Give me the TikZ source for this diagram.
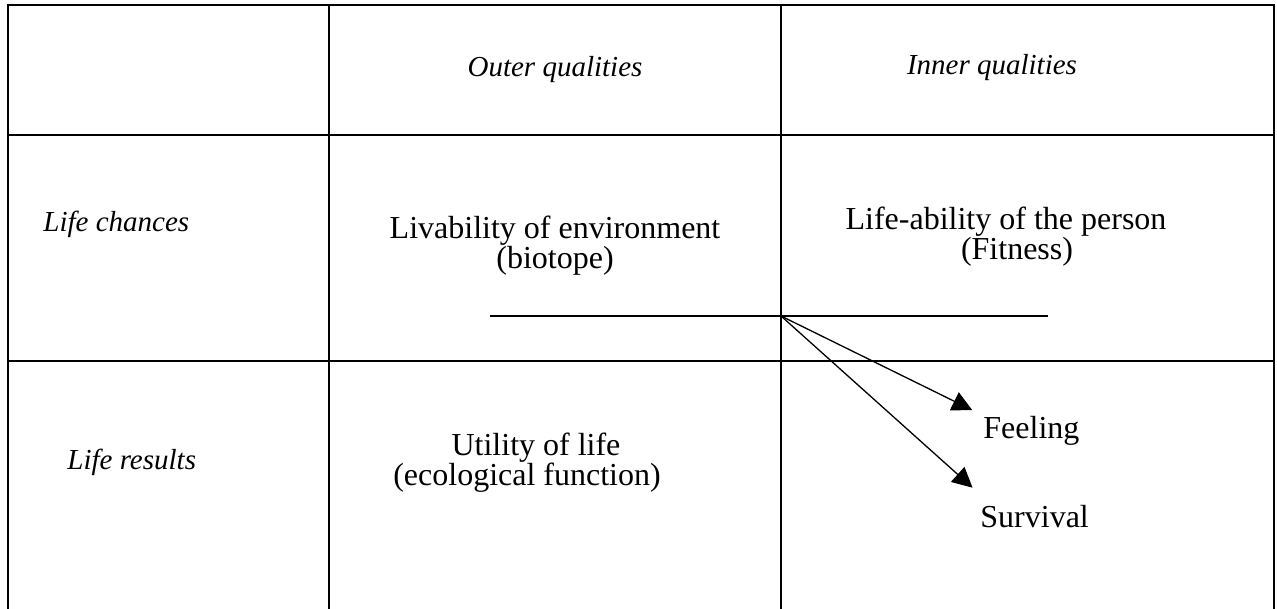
\documentclass[tikz,border=0pt]{standalone}
\usepackage{fontspec}
\setmainfont{Liberation Serif}
\usetikzlibrary{arrows.meta}

\begin{document}
\begin{tikzpicture}[x=0.5pt,y=-0.5pt]
                \tikzstyle{every node}+=[inner sep=0pt]
                \tikzstyle{cell}=[font=\fontsize{16}{15}\selectfont, align=center, anchor=base]
                \tikzstyle{head}=[font=\fontsize{14.5}{14.5}\selectfont\itshape, anchor=base]
                \tikzstyle{rule}=[black, line width=0.75pt]
                \tikzstyle{arr}=[black, line width=0.65pt, -{Triangle[length=10pt,width=10pt]}]
                \useasboundingbox (0,0) rectangle (1277,609);
                % table
                \draw [rule] (8,609) -- (8,5) -- (1274,5) -- (1274,609);
                \draw [rule] (329,5) -- (329,609);
                \draw [rule] (781,5) -- (781,609);
                \draw [rule] (8,135) -- (1274,135);
                \draw [rule] (8,361) -- (1274,361);
                % headings
                \node [head] (outer) at (555,77) {Outer qualities};
                \node [head] (inner) at (992,75) {Inner qualities};
                \node [head, anchor=base west] (chances) at (43,231) {Life chances};
                \node [head, anchor=base west] (results) at (67,469) {Life results};
                % cells
                \node [cell] (livability) at (555,268) {Livability of environment\\(biotope)};
                \node [cell] (lifeability) at (1006,259) {Life-ability of the person\\\hspace{11pt}(Fitness)};
                \node [cell] (utility) at (527,485) {\hspace{9pt}Utility of life\\(ecological function)};
                \node [cell, anchor=base west] (feeling) at (983,438) {Feeling};
                \node [cell, anchor=base west] (survival) at (980,527) {Survival};
                % split line and arrows
                \coordinate (lineL) at (490,316);
                \coordinate (fork) at (781,316);
                \coordinate (lineR) at (1048,316);
                \draw [black, line width=0.65pt] (lineL) -- (lineR);
                \draw [arr, shorten >=6pt] (fork) -- (feeling.north west);
                \draw [arr, shorten >=5pt] (fork) -- ([yshift=5pt]survival.north west);
              \end{tikzpicture}
\end{document}
